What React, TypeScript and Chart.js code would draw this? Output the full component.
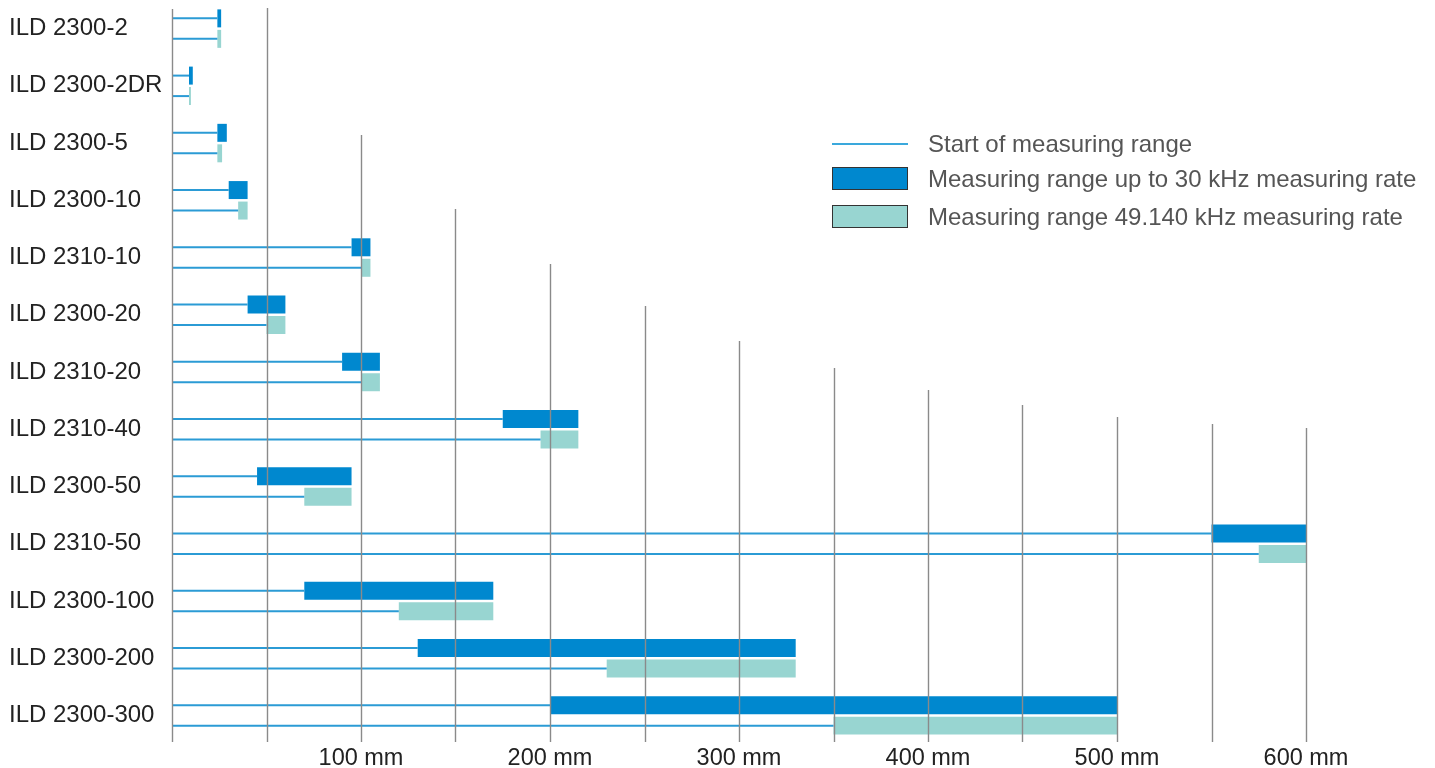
import { useEffect, useRef } from 'react';
import { Chart, registerables } from 'chart.js';

Chart.register(...registerables);

// sensor models, top to bottom
const models = [
  'ILD 2300-2',
  'ILD 2300-2DR',
  'ILD 2300-5',
  'ILD 2300-10',
  'ILD 2310-10',
  'ILD 2300-20',
  'ILD 2310-20',
  'ILD 2310-40',
  'ILD 2300-50',
  'ILD 2310-50',
  'ILD 2300-100',
  'ILD 2300-200',
  'ILD 2300-300',
];

// measuring range (mm) up to 30 kHz
const start30 = [24, 9, 24, 30, 95, 40, 90, 175, 45, 550, 70, 130, 200];
const end30 = [26, 11, 29, 40, 105, 60, 110, 215, 95, 600, 170, 330, 500];

// measuring range (mm) at 49.140 kHz
const start49 = [24, 9, 24, 35, 100, 50, 100, 195, 70, 575, 120, 230, 350];
const end49 = [26, 10, 26.5, 40, 105, 60, 110, 215, 95, 600, 170, 330, 500];

// x axis gridlines every 50 mm, labels every 100 mm
const gridValues = [0, 50, 100, 150, 200, 250, 300, 350, 400, 450, 500, 550, 600];
const labelValues = [100, 200, 300, 400, 500, 600];

// top of each gridline in px (staircase look of the original)
const gridTops = [9, 8, 135, 209, 264, 306, 341, 368, 390, 405, 417, 424, 428];

const FONT = '"Liberation Sans", Arial, Helvetica, sans-serif';
const DARK = '#0088cf';
const TEAL = '#98d5d1';
const LINE = '#2b9bd5';

const CAT_PCT = 0.716;
const BAR_PCT = 0.878;

const gridPlugin = {
  id: 'stairGrid',
  afterDatasetsDraw(chart: Chart) {
    const { ctx, chartArea } = chart;
    const xScale = chart.scales.x;
    ctx.save();
    ctx.strokeStyle = '#8a8a8a';
    ctx.lineWidth = 1.4;
    gridValues.forEach((v, i) => {
      const x = Math.round(xScale.getPixelForValue(v)) + 0.5;
      ctx.beginPath();
      ctx.moveTo(x, gridTops[i]);
      ctx.lineTo(x, chartArea.bottom - 2);
      ctx.stroke();
    });
    ctx.restore();
  },
};

export default function App() {
  const canvasRef = useRef<HTMLCanvasElement>(null);
  const chartRef = useRef<Chart | null>(null);

  useEffect(() => {
    document.body.style.margin = '0';
    if (!canvasRef.current) return;
    if (chartRef.current) chartRef.current.destroy();

    const common = {
      categoryPercentage: CAT_PCT,
      barPercentage: BAR_PCT,
      borderWidth: 0,
    };

    chartRef.current = new Chart(canvasRef.current, {
      type: 'bar',
      data: {
        labels: models,
        datasets: [
          {
            label: 'Start of measuring range',
            data: start30.map((s) => [0, s]),
            backgroundColor: LINE,
            maxBarThickness: 2,
            stack: 'r30',
            ...common,
          },
          {
            label: 'Measuring range up to 30 kHz measuring rate',
            data: start30.map((s, i) => [s, end30[i]]),
            backgroundColor: DARK,
            stack: 'r30',
            ...common,
          },
          {
            label: 'Start of measuring range',
            data: start49.map((s) => [0, s]),
            backgroundColor: LINE,
            maxBarThickness: 2,
            stack: 'r49',
            ...common,
          },
          {
            label: 'Measuring range 49.140 kHz measuring rate',
            data: start49.map((s, i) => [s, end49[i]]),
            backgroundColor: TEAL,
            stack: 'r49',
            ...common,
          },
        ] as any,
      },
      options: {
        indexAxis: 'y',
        animation: false,
        responsive: false,
        maintainAspectRatio: false,
        layout: { padding: { left: 9, top: -2, right: 0, bottom: 0 } },
        plugins: {
          legend: { display: false },
          tooltip: { enabled: false },
        },
        scales: {
          x: {
            type: 'linear',
            min: 0,
            max: (1435 - 172) / 1.89,
            stacked: false,
            grid: { display: false, drawTicks: false },
            border: { display: false },
            ticks: {
              stepSize: 50,
              autoSkip: false,
              maxRotation: 0,
              padding: 0,
              color: '#222',
              font: { family: FONT, size: 23.5 },
              callback: (v) => (labelValues.includes(Number(v)) ? `${v} mm` : ''),
            },
            afterFit: (s: any) => {
              s.height = 24;
            },
          },
          y: {
            type: 'category',
            grid: { display: false, drawTicks: false },
            border: { display: false },
            ticks: {
              crossAlign: 'far',
              padding: 0,
              color: '#222',
              font: { family: FONT, size: 24 },
            },
            afterFit: (s: any) => {
              s.width = 163;
              s.paddingTop = 0;
              s.paddingBottom = 0;
            },
          },
        },
      },
      plugins: [gridPlugin],
    });

    return () => {
      if (chartRef.current) {
        chartRef.current.destroy();
        chartRef.current = null;
      }
    };
  }, []);

  const rowStyle = (center: number): React.CSSProperties => ({
    position: 'absolute',
    left: 832,
    top: center - 15,
    height: 30,
    display: 'flex',
    alignItems: 'center',
    fontFamily: FONT,
    fontSize: 24,
    color: '#555',
    whiteSpace: 'nowrap',
  });

  return (
    <div style={{ position: 'relative', width: 1435, height: 768, background: '#fff' }}>
      <canvas ref={canvasRef} width={1435} height={768} style={{ display: 'block' }} />
      <div style={rowStyle(143.5)}>
        <div style={{ width: 76, height: 2, background: '#3aa8dc', marginRight: 20 }} />
        <span>Start of measuring range</span>
      </div>
      <div style={rowStyle(178.5)}>
        <div
          style={{
            width: 76,
            height: 23,
            boxSizing: 'border-box',
            background: DARK,
            border: '1.5px solid #333',
            marginRight: 20,
          }}
        />
        <span>Measuring range up to 30 kHz measuring rate</span>
      </div>
      <div style={rowStyle(216.5)}>
        <div
          style={{
            width: 76,
            height: 23,
            boxSizing: 'border-box',
            background: TEAL,
            border: '1.5px solid #333',
            marginRight: 20,
          }}
        />
        <span>Measuring range 49.140 kHz measuring rate</span>
      </div>
    </div>
  );
}
